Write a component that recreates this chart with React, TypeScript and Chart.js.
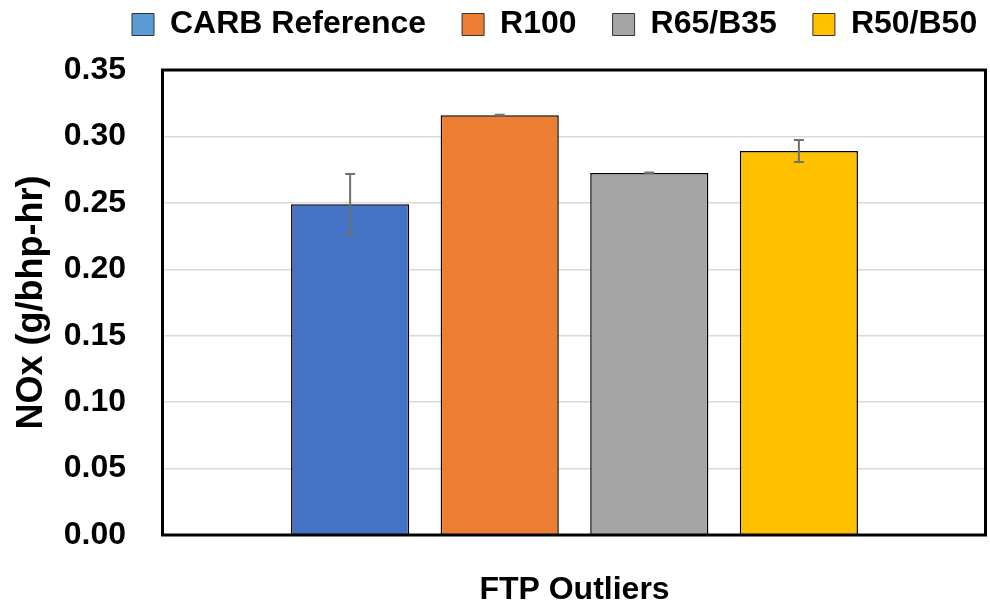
import React, { useEffect, useRef } from 'react';
import { Chart, registerables } from 'chart.js';

Chart.register(...registerables);

const categories = ['FTP Outliers'];
const seriesNames = ['CARB Reference', 'R100', 'R65/B35', 'R50/B50'];
const carbValues = [0.249];
const r100Values = [0.316];
const r65Values = [0.2725];
const r50Values = [0.289];
const carbErrors = [0.0228];
const r100Errors = [0.0003];
const r65Errors = [0.0003];
const r50Errors = [0.0083];
const seriesValues = [carbValues, r100Values, r65Values, r50Values];
const seriesErrors = [carbErrors, r100Errors, r65Errors, r50Errors];
const barColors = ['#4472C4', '#ED7D31', '#A5A5A5', '#FFC000'];
const legendColors = ['#5B9BD5', '#ED7D31', '#A5A5A5', '#FFC000'];
const yMin = 0;
const yMax = 0.35;
const yStep = 0.05;

const FONT = "'Liberation Sans', Arial, sans-serif";

const errorBarPlugin = {
  id: 'errorBars',
  afterDatasetsDraw(chart: any) {
    const ctx = chart.ctx;
    const y = chart.scales.y;
    chart.data.datasets.forEach((_ds: any, i: number) => {
      const meta = chart.getDatasetMeta(i);
      meta.data.forEach((bar: any, j: number) => {
        const v = seriesValues[i][j];
        const e = seriesErrors[i][j];
        const yTop = y.getPixelForValue(v + e);
        const yBot = y.getPixelForValue(v - e);
        ctx.save();
        ctx.strokeStyle = '#707070';
        ctx.lineWidth = 2;
        ctx.beginPath();
        ctx.moveTo(bar.x, yTop);
        ctx.lineTo(bar.x, yBot);
        ctx.moveTo(bar.x - 5, yTop);
        ctx.lineTo(bar.x + 5, yTop);
        ctx.moveTo(bar.x - 5, yBot);
        ctx.lineTo(bar.x + 5, yBot);
        ctx.stroke();
        ctx.restore();
      });
    });
  },
};

const framePlugin = {
  id: 'frame',
  afterDraw(chart: any) {
    const { left, top, right, bottom } = chart.chartArea;
    const ctx = chart.ctx;
    ctx.save();
    ctx.strokeStyle = '#000';
    ctx.lineWidth = 3;
    ctx.strokeRect(left - 0.5, top, right - left, bottom - top);
    ctx.restore();
  },
};

const legendShiftPlugin = {
  id: 'legendShift',
  afterLayout(chart: any) {
    const lg = chart.legend;
    if (!lg || !lg.lineWidths) return;
    const pad = lg.options.labels.padding;
    const x0 = (lg.left + pad + lg.right - lg.lineWidths[0]) / 2;
    const dx = 132 - x0;
    lg.left += dx;
    lg.right += dx;
    const fontSize = 32;
    lg.top = 24.5 - fontSize / 2 - pad;
  },
};

export default function App() {
  const ref = useRef<HTMLCanvasElement | null>(null);
  useEffect(() => {
    if (!ref.current) return;
    const chart = new Chart(ref.current, {
      type: 'bar',
      data: {
        labels: categories,
        datasets: seriesNames.map((name, i) => ({
          label: name,
          data: seriesValues[i],
          backgroundColor: barColors[i],
          borderColor: '#000',
          borderWidth: 1.5,
          categoryPercentage: 0.727,
          barPercentage: 0.79,
        })),
      },
      options: {
        responsive: false,
        animation: false,
        layout: { padding: { left: 0, right: 4, top: 0, bottom: 0 } },
        plugins: {
          tooltip: { enabled: false },
          legend: {
            position: 'top',
            maxHeight: 70,
            labels: {
              font: { family: FONT, size: 32, weight: 'bold' },
              color: '#000',
              boxWidth: 22,
              boxHeight: 22,
              padding: 36,
              generateLabels: () =>
                seriesNames.map((name, i) => ({
                  text: name,
                  fillStyle: legendColors[i],
                  strokeStyle: '#333',
                  lineWidth: 1,
                  hidden: false,
                  datasetIndex: i,
                })),
            },
          },
        },
        scales: {
          x: {
            grid: { display: false },
            border: { display: false },
            ticks: {
              font: { family: FONT, size: 32, weight: 'bold' },
              color: '#000',
              padding: 28,
            },
            afterFit: (s: any) => {
              s.height = 70;
            },
          },
          y: {
            min: yMin,
            max: yMax,
            grid: { color: '#d9d9d9', lineWidth: 1.5, drawTicks: false },
            border: { display: false },
            ticks: {
              stepSize: yStep,
              font: { family: FONT, size: 32, weight: 'bold' },
              color: '#000',
              padding: 37,
              callback: (v: any) => Number(v).toFixed(2),
            },
            title: {
              display: true,
              text: 'NOx (g/bhp-hr)',
              font: { family: FONT, size: 36, weight: 'bold' },
              color: '#000',
              padding: { top: 10, bottom: 0 },
            },
            afterFit: (s: any) => {
              s.width = 163;
            },
          },
        },
      },
      plugins: [errorBarPlugin, framePlugin, legendShiftPlugin],
    });
    return () => chart.destroy();
  }, []);
  return (
    <div style={{ position: 'absolute', left: 0, top: 0, width: 990, height: 605 }}>
      <canvas ref={ref} width={990} height={605} />
    </div>
  );
}
